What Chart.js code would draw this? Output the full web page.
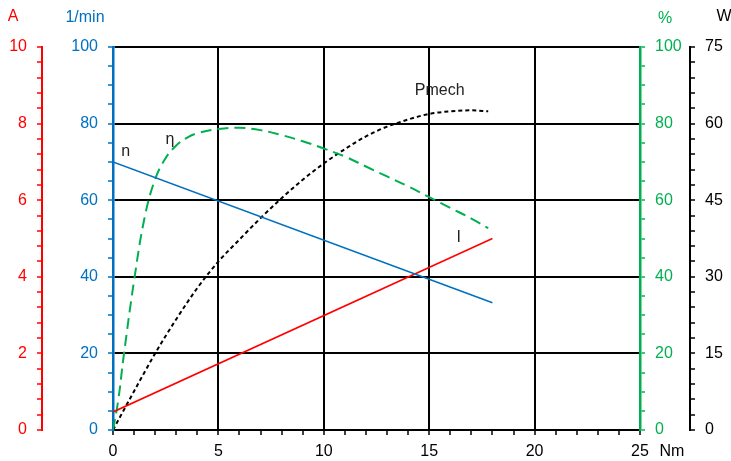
<!DOCTYPE html>
<html>
<head>
<meta charset="utf-8">
<script src="https://cdn.jsdelivr.net/npm/chart.js@4/dist/chart.umd.min.js"></script>
<style>
  body { margin: 0; background: #fff; }
  #wrap { width: 731px; height: 461px; position: relative; }
</style>
</head>
<body>
<div id="wrap"><canvas id="chart"></canvas></div>
<script>
// --- DATI ---
const torqueN = [0, 18];
const speedN = [70, 33.2];

const torqueI = [0, 18];
const currentI = [0.47, 5.0];

const torqueEta = [0, 0.25, 0.5, 1, 1.5, 2, 2.5, 3, 3.5, 4, 5, 6, 7, 8, 9, 10, 11, 12, 13, 14, 15, 16, 17, 17.8];
const efficiency = [0, 7.8, 19, 39, 55.5, 65.5, 71, 74.3, 76.3, 77.5, 78.6, 78.9, 78.3, 77.0, 75.4, 73.5, 71.4, 68.8, 66.2, 63.6, 60.8, 58, 55.2, 52.7];

const torqueP = [0, 1, 2, 3, 4, 5, 6, 7, 8, 9, 10, 11, 12, 13, 14, 15, 16, 17, 17.8];
const powerP = [0, 7.6, 15.0, 21.7, 27.8, 33.0, 37.3, 41.5, 45.4, 49.0, 52.2, 55.0, 57.5, 59.4, 60.8, 61.9, 62.4, 62.6, 62.4];

const BLUE = '#0070c0', RED = '#ff0000', GREEN = '#00b050', BLACK = '#000000';

const pts = (xs, ys) => xs.map((x, i) => ({ x, y: ys[i] }));

Chart.defaults.font.family = '"Liberation Sans", Arial, sans-serif';
Chart.defaults.font.size = 16;

// scritte sul grafico
const labelsPlugin = {
  id: 'labels',
  afterDraw(chart) {
    const c = chart.ctx;
    const x = chart.scales.x, yN = chart.scales.yN;
    c.save();
    c.font = '16px "Liberation Sans", Arial, sans-serif';
    c.textAlign = 'center';
    c.textBaseline = 'middle';
    c.fillStyle = RED;   c.fillText('A', 13, 17);
    c.fillStyle = BLUE;  c.fillText('1/min', 85, 18);
    c.fillStyle = GREEN; c.fillText('%', 665, 19);
    c.fillStyle = BLACK; c.fillText('W', 724, 17);
    c.fillText('Nm', 672, 452);
    c.fillStyle = '#222';
    c.fillText('n', x.getPixelForValue(0.6), yN.getPixelForValue(72.6));
    c.fillText('η', x.getPixelForValue(2.7), yN.getPixelForValue(75.7));
    c.fillText('Pmech', x.getPixelForValue(15.5), yN.getPixelForValue(88.5));
    c.fillText('I', x.getPixelForValue(16.4), yN.getPixelForValue(50.3));
    c.restore();
  }
};

function yAxis(opts) {
  const every = opts.every;
  return {
    type: 'linear',
    position: opts.position,
    weight: opts.weight,
    min: opts.min, max: opts.max,
    ticks: {
      stepSize: opts.step,
      maxTicksLimit: 1000,
      autoSkip: false,
      color: opts.color,
      padding: 10,
      callback: v => Math.abs(v / every - Math.round(v / every)) < 1e-6 ? v : ''
    },
    grid: {
      drawOnChartArea: !!opts.grid,
      color: ctx => (ctx.tick && Math.abs(ctx.tick.value / every - Math.round(ctx.tick.value / every)) < 1e-6) ? BLACK : 'rgba(0,0,0,0)',
      lineWidth: 2,
      tickColor: opts.color,
      tickWidth: 1.5,
      tickLength: 5
    },
    border: { color: opts.color, width: opts.bw || 2 },
    afterFit: s => { s.width = opts.width; }
  };
}

new Chart(document.getElementById('chart'), {
  type: 'scatter',
  data: {
    datasets: [
      { label: 'n', data: pts(torqueN, speedN), yAxisID: 'yN', borderColor: BLUE, borderWidth: 1.6 },
      { label: 'I', data: pts(torqueI, currentI), yAxisID: 'yA', borderColor: RED, borderWidth: 1.6 },
      { label: 'η', data: pts(torqueEta, efficiency), yAxisID: 'yEta', borderColor: GREEN, borderWidth: 2, borderDash: [11, 6], tension: 0.4 },
      { label: 'Pmech', data: pts(torqueP, powerP), yAxisID: 'yP', borderColor: BLACK, borderWidth: 2, borderDash: [4, 3], cubicInterpolationMode: 'monotone' }
    ]
  },
  options: {
    responsive: true,
    maintainAspectRatio: false,
    animation: false,
    showLine: true,
    layout: { padding: { top: 47, left: 0, right: 0, bottom: 0 } },
    elements: { point: { radius: 0 } },
    plugins: { legend: { display: false }, tooltip: { enabled: false } },
    scales: {
      x: {
        type: 'linear', position: 'bottom', min: 0, max: 25,
        ticks: {
          stepSize: 1, maxTicksLimit: 1000, autoSkip: false, maxRotation: 0,
          color: BLACK, padding: 7,
          callback: v => v % 5 === 0 ? v : ''
        },
        grid: {
          color: ctx => (ctx.tick && ctx.tick.value % 5 === 0) ? BLACK : 'rgba(0,0,0,0)',
          lineWidth: 2, tickColor: BLACK, tickWidth: 1.5, tickLength: 5
        },
        border: { color: BLACK, width: 2 },
        afterFit: s => { s.height = 31; }
      },
      yN: yAxis({ position: 'left', weight: 0, min: 0, max: 100, step: 5, every: 20, color: BLUE, grid: true, width: 71, bw: 2.5 }),
      yA: yAxis({ position: 'left', weight: 1, min: 0, max: 10, step: 0.4, every: 2, color: RED, width: 42 }),
      yEta: yAxis({ position: 'right', weight: 0, min: 0, max: 100, step: 5, every: 20, color: GREEN, width: 50, bw: 2.5 }),
      yP: yAxis({ position: 'right', weight: 1, min: 0, max: 75, step: 3, every: 15, color: BLACK, width: 41 })
    }
  },
  plugins: [labelsPlugin]
});
</script>
</body>
</html>
